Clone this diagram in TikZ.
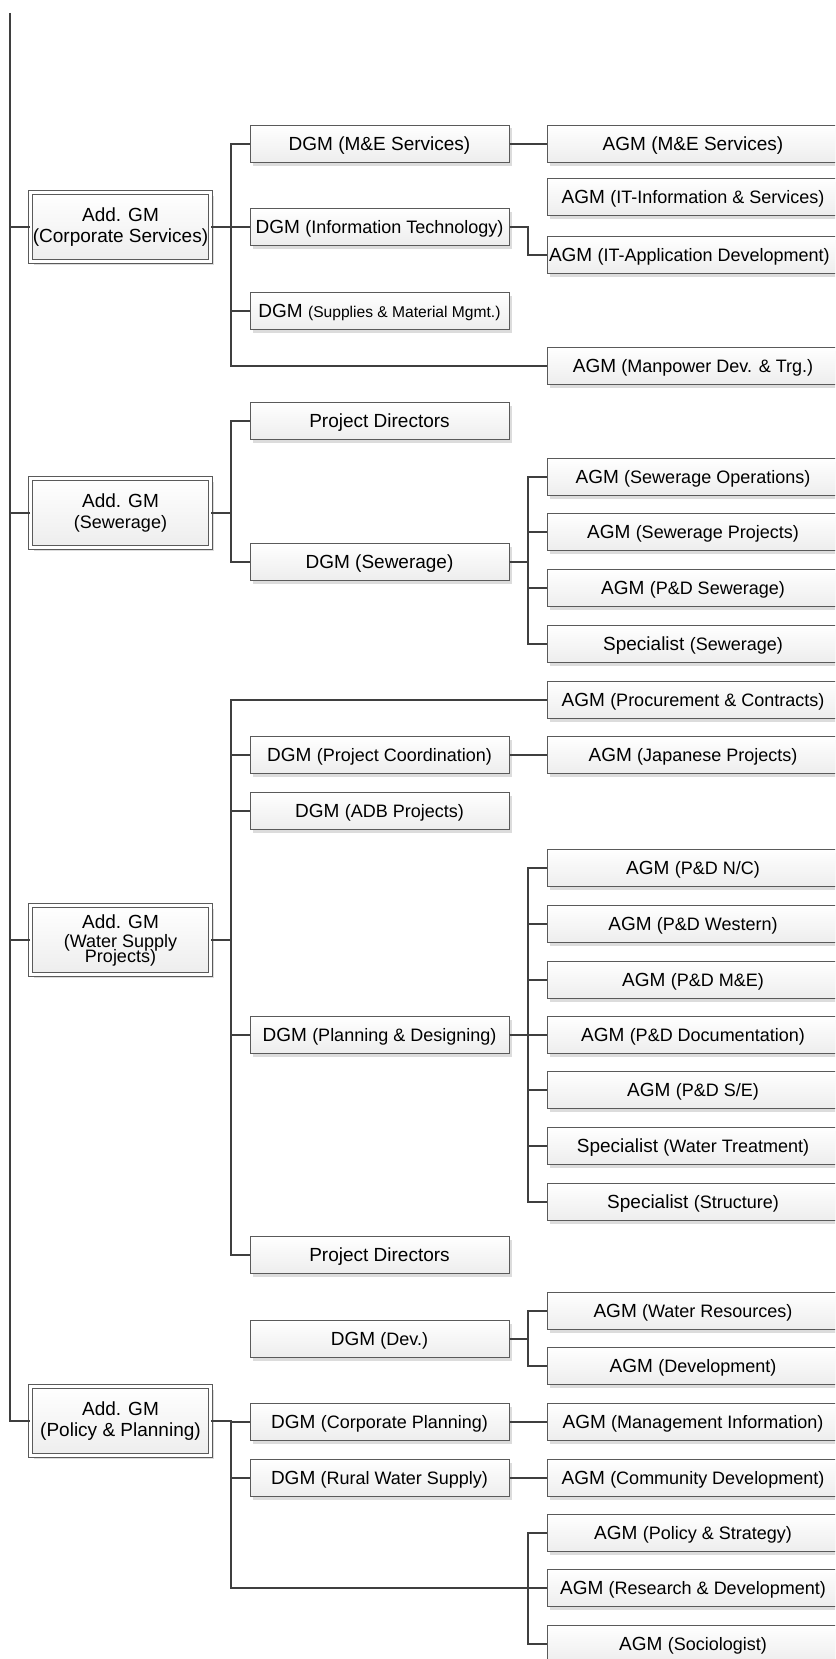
\documentclass[tikz,border=0pt]{standalone}
\usepackage{fontspec}
\setmainfont{Liberation Sans}
\usetikzlibrary{shadows}
\definecolor{OrgLine}{HTML}{3F3F3F}
\definecolor{OrgBorder}{HTML}{5A5A5A}
\definecolor{OrgFillTop}{HTML}{FFFFFF}
\definecolor{OrgFillBottom}{HTML}{EDEDED}
\definecolor{OrgShadow}{HTML}{DCDCDC}
\newcommand\sm[1]{{\fontsize{9}{10}\selectfont #1}}
\newcommand\xs[1]{{\fontsize{7.8}{9}\selectfont #1}}

\begin{document}
\begin{tikzpicture}[x=0.5pt,y=-0.5pt,
    box/.style={draw=OrgBorder,line width=0.5pt,top color=OrgFillTop,bottom color=OrgFillBottom,
      drop shadow={shadow xshift=1.5pt,shadow yshift=-1.5pt,fill=OrgShadow,opacity=1},
      inner sep=1pt,font=\fontsize{9.5}{10.5}\selectfont},
    addgm/.style={box,double=OrgFillTop,double distance=1.5pt,minimum width=90pt,minimum height=34.5pt,align=center},
    dgm/.style={box,minimum width=129.5pt,minimum height=18.5pt,text height=7.6pt,text depth=0.8pt},
    agm/.style={box,minimum width=146pt,minimum height=18.5pt,text height=7.6pt,text depth=0.8pt},
    conn/.style={OrgLine,line width=1pt}]
      \useasboundingbox (0,0) rectangle (835,1659);
      \clip (0,0) rectangle (835,1659);
      \coordinate (top) at (10,13);
      \coordinate (busA) at (231,0);
      \coordinate (busB) at (528,0);

      \node[addgm] (cs) at (120.5,227) {Add. GM\\(Corporate Services)};
      \node[addgm] (sw) at (120.5,513) {Add. GM\\\sm{(Sewerage)}};
      \node[addgm] (ws) at (120.5,940) {Add. GM\\[-1pt]\sm{(Water Supply}\\[-3pt]\sm{Projects)}};
      \node[addgm] (pp) at (120.5,1421) {Add. GM\\(Policy \& Planning)};

      \node[dgm] (dme) at (379.5,144) {DGM (M\&E Services)};
      \node[dgm] (dit) at (379.5,227) {DGM \sm{(Information Technology)}};
      \node[dgm] (dsm) at (379.5,311) {DGM \xs{(Supplies \& Material Mgmt.)}};
      \node[dgm] (pd1) at (379.5,421) {Project Directors};
      \node[dgm] (dsw) at (379.5,562) {DGM (Sewerage)};
      \node[dgm] (dpc) at (379.5,755) {DGM \sm{(Project Coordination)}};
      \node[dgm] (dadb) at (379.5,811) {DGM \sm{(ADB Projects)}};
      \node[dgm] (dpl) at (379.5,1035) {DGM \sm{(Planning \& Designing)}};
      \node[dgm] (pd2) at (379.5,1255) {Project Directors};
      \node[dgm] (ddev) at (379.5,1339) {DGM \sm{(Dev.)}};
      \node[dgm] (dcp) at (379.5,1422) {DGM \sm{(Corporate Planning)}};
      \node[dgm] (drw) at (379.5,1478) {DGM \sm{(Rural Water Supply)}};

      \node[agm] (ame) at (693,144) {AGM (M\&E Services)};
      \node[agm] (ais) at (693,197) {AGM \sm{(IT-Information \& Services)}};
      \node[agm] (aad) at (693,255) {\makebox[144pt][l]{AGM \sm{(IT-Application Development)}}};
      \node[agm] (amp) at (693,366) {AGM \sm{(Manpower Dev. \& Trg.)}};
      \node[agm] (aso) at (693,477) {AGM \sm{(Sewerage Operations)}};
      \node[agm] (asp) at (693,532) {AGM \sm{(Sewerage Projects)}};
      \node[agm] (apds) at (693,588) {AGM \sm{(P\&D Sewerage)}};
      \node[agm] (ssw) at (693,644) {Specialist \sm{(Sewerage)}};
      \node[agm] (apc) at (693,700) {AGM \sm{(Procurement \& Contracts)}};
      \node[agm] (ajp) at (693,755) {AGM \sm{(Japanese Projects)}};
      \node[agm] (anc) at (693,868) {AGM \sm{(P\&D N/C)}};
      \node[agm] (awe) at (693,924) {AGM \sm{(P\&D Western)}};
      \node[agm] (amep) at (693,980) {AGM \sm{(P\&D M\&E)}};
      \node[agm] (adoc) at (693,1035) {AGM \sm{(P\&D Documentation)}};
      \node[agm] (ase) at (693,1090) {AGM \sm{(P\&D S/E)}};
      \node[agm] (swt) at (693,1146) {Specialist \sm{(Water Treatment)}};
      \node[agm] (sst) at (693,1202) {Specialist \sm{(Structure)}};
      \node[agm] (awr) at (693,1311) {AGM \sm{(Water Resources)}};
      \node[agm] (adev) at (693,1366) {AGM \sm{(Development)}};
      \node[agm] (ami) at (693,1422) {AGM \sm{(Management Information)}};
      \node[agm] (acd) at (693,1478) {AGM \sm{(Community Development)}};
      \node[agm] (aps) at (693,1533) {AGM \sm{(Policy \& Strategy)}};
      \node[agm] (ard) at (693,1588) {AGM \sm{(Research \& Development)}};
      \node[agm] (asoc) at (693,1644) {AGM \sm{(Sociologist)}};

      \draw[conn] (top) |- (pp.west);
      \foreach \g in {cs,sw,ws} {
        \draw[conn] (\g.west) -- (\g.west -| top);
      }
      \foreach \c in {dme,dit,dsm,amp} {
        \draw[conn] (cs.east) -- (cs.east -| busA) |- (\c.west);
      }
      \foreach \c in {pd1,dsw} {
        \draw[conn] (sw.east) -- (sw.east -| busA) |- (\c.west);
      }
      \foreach \c in {apc,dpc,dadb,dpl,pd2} {
        \draw[conn] (ws.east) -- (ws.east -| busA) |- (\c.west);
      }
      \foreach \c in {dcp,drw,ard} {
        \draw[conn] (pp.east) -- (pp.east -| busA) |- (\c.west);
      }
      \draw[conn] (dme.east) -- (ame.west);
      \draw[conn] (dit.east) -- (dit.east -| busB) |- (aad.west);
      \foreach \c in {aso,asp,apds,ssw} {
        \draw[conn] (dsw.east) -- (dsw.east -| busB) |- (\c.west);
      }
      \draw[conn] (dpc.east) -- (ajp.west);
      \foreach \c in {anc,awe,amep,adoc,ase,swt,sst} {
        \draw[conn] (dpl.east) -- (dpl.east -| busB) |- (\c.west);
      }
      \foreach \c in {awr,adev} {
        \draw[conn] (ddev.east) -- (ddev.east -| busB) |- (\c.west);
      }
      \draw[conn] (dcp.east) -- (ami.west);
      \draw[conn] (drw.east) -- (acd.west);
      \foreach \c in {aps,asoc} {
        \draw[conn] (ard.west -| busB) |- (\c.west);
      }
    \end{tikzpicture}
\end{document}
